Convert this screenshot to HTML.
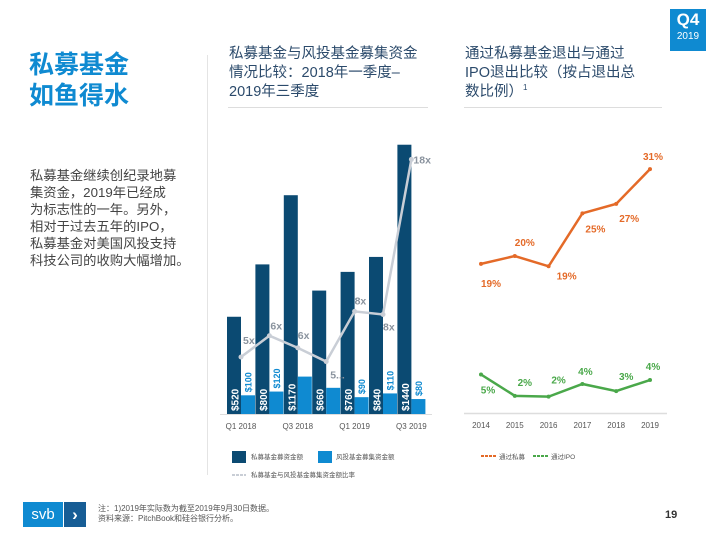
<!DOCTYPE html>
<html><head><meta charset="utf-8"><style>
body{margin:0;width:714px;height:540px;background:#fff;position:relative;overflow:hidden;font-family:"Liberation Sans","Noto Sans CJK SC",sans-serif;}
.a{position:absolute;}
</style></head><body>
<div class="a" style="left:670px;top:9px;width:36px;height:42px;background:#0f8ad1;color:#fff;text-align:center;">
<div style="font-size:17px;font-weight:bold;line-height:22px;">Q4</div><div style="font-size:10px;line-height:12px;">2019</div></div>
<div class="a" style="left:29px;top:50px;font-size:25px;font-weight:bold;color:#0f8ad1;line-height:31px;">私募基金<br>如鱼得水</div>
<div class="a" style="left:207px;top:55px;width:1px;height:420px;background:#e4e4e4;"></div>
<div class="a" style="left:30px;top:167px;font-size:13.3px;color:#444;line-height:17px;">私募基金继续创纪录地募<br>集资金，2019年已经成<br>为标志性的一年。另外，<br>相对于过去五年的IPO，<br>私募基金对美国风投支持<br>科技公司的收购大幅增加。</div>
<div class="a" style="left:229px;top:45px;font-size:14.5px;color:#2b4a6b;line-height:19px;">私募基金与风投基金募集资金<br>情况比较：2018年一季度–<br>2019年三季度</div>
<div class="a" style="left:465px;top:45px;font-size:14.5px;color:#2b4a6b;line-height:19px;">通过私募基金退出与通过<br>IPO退出比较（按占退出总<br>数比例）<span style="font-size:8px;position:relative;top:-6px;">1</span></div>
<div class="a" style="left:228px;top:107px;width:200px;height:1px;background:#ddd"></div>
<div class="a" style="left:464px;top:107px;width:198px;height:1px;background:#ddd"></div>
<svg class="a" style="left:0;top:0" width="714" height="540" id="c"></svg>
<div class="a" style="left:23px;top:502px;width:40px;height:25px;background:#0f8ad1;color:#fff;font-size:15px;text-align:center;line-height:25px;">svb</div>
<div class="a" style="left:64px;top:502px;width:22px;height:25px;background:#175d95;color:#fff;font-size:17px;text-align:center;line-height:25px;font-weight:bold;">›</div>
<div class="a" style="left:98px;top:504px;font-size:8px;color:#555;line-height:10px;">注：1)2019年实际数为截至2019年9月30日数据。<br>资料来源：PitchBook和硅谷银行分析。</div>
<div class="a" style="left:665px;top:509px;font-size:11px;font-weight:bold;color:#333;">19</div>
<script>
const quarters=["Q1 2018","Q2 2018","Q3 2018","Q4 2018","Q1 2019","Q2 2019","Q3 2019"];
const peValues=[520,800,1170,660,760,840,1440];
const vcValues=[100,120,200,140,90,110,80];
const vcLabels=["$100","$120","","","$90","$110","$80"];
const ratioValues=[5,6.4,5.6,4.7,8,7.8,18];
const ratioLabels=["5x","6x","6x","5...","8x","8x","18x"];
const years=["2014","2015","2016","2017","2018","2019"];
const peExit=[19,20,18.7,25.4,26.6,31];
const ipoExit=[5,2.3,2.2,3.8,2.9,4.3];
const peExitLabels=["19%","20%","19%","25%","27%","31%"];
const ipoExitLabels=["5%","2%","2%","4%","3%","4%"];
const svg=document.getElementById('c');const NS="http://www.w3.org/2000/svg";
function mk(t,a,txt){const e=document.createElementNS(NS,t);for(const k in a)e.setAttribute(k,a[k]);if(txt!==undefined)e.textContent=txt;svg.appendChild(e);return e;}
const bx=i=>227+28.4*i, by=v=>414-v*0.187, ry=v=>357-(v-5)*15.2;
peValues.forEach((v,i)=>{const r=mk('rect',{x:bx(i),y:by(v),width:14,height:414-by(v),fill:'#0b4a72'});

const t=mk('text',{x:0,y:0,transform:`translate(${bx(i)+11.5},411) rotate(-90)`,fill:'#fff','font-size':10,'font-weight':'bold'},'$'+v);
});
vcValues.forEach((v,i)=>{const r=mk('rect',{x:bx(i)+14,y:by(v),width:14,height:414-by(v),fill:'#0f8ad1'});

if(vcLabels[i]){const t=mk('text',{x:0,y:0,transform:`translate(${bx(i)+24.5},${by(v)-3}) rotate(-90)`,fill:'#0f8ad1','font-size':9,'font-weight':'bold'},vcLabels[i]);
}});
const rp=ratioValues.map((v,i)=>[bx(i)+14,ry(v)]);
const rl=mk('polyline',{points:rp.map(p=>p.join(',')).join(' '),fill:'none',stroke:'#c9ced6','stroke-width':2.5});

rp.forEach((p,i)=>{const c=mk('circle',{cx:p[0],cy:p[1],r:2.5,fill:'#c9ced6'});
const dy=[-13,-6,-9,17,-7,16,4][i];const dx=[2,1,0,4,0,0,2][i];
const t=mk('text',{x:p[0]+dx,y:p[1]+dy,fill:'#8a939e','font-size':10.5,'font-weight':'bold'},ratioLabels[i]);});
mk('line',{x1:220,x2:432,y1:414.5,y2:414.5,stroke:'#ddd'});
[0,2,4,6].forEach(i=>{const t=mk('text',{x:bx(i)+14,y:429,'text-anchor':'middle','font-size':8,fill:'#555'},quarters[i]);});
mk('rect',{x:232,y:451,width:14,height:12,fill:'#0b4a72'});mk('text',{x:251,y:459,'font-size':6.5,fill:'#555'},'私募基金募资金额');
mk('rect',{x:318,y:451,width:14,height:12,fill:'#0f8ad1'});mk('text',{x:336,y:459,'font-size':6.5,fill:'#555'},'风投基金募集资金额');
mk('line',{x1:232,x2:246,y1:475,y2:475,stroke:'#c9ced6','stroke-width':2,'stroke-dasharray':'3,1'});mk('text',{x:251,y:477,'font-size':6.5,fill:'#555'},'私募基金与风投基金募集资金额比率');
const yx=i=>481+33.8*i, yy=v=>414-v*7.9;
function line(vals,color,labels,offs,name){const pts=vals.map((v,i)=>[yx(i),yy(v)]);
const l=mk('polyline',{points:pts.map(p=>p.join(',')).join(' '),fill:'none',stroke:color,'stroke-width':2.5});
pts.forEach((p,i)=>{const c=mk('circle',{cx:p[0],cy:p[1],r:2,fill:color});
const t=mk('text',{x:p[0]+offs[i][0],y:p[1]+offs[i][1],'font-size':10,'font-weight':'bold',fill:color,'text-anchor':'middle'},labels[i]);});}
line(peExit,'#e46a28',peExitLabels,[[10,23],[10,-10],[18,13],[13,19],[13,18],[3,-9]],'pe-exit');
line(ipoExit,'#4aa84a',ipoExitLabels,[[7,19],[10,-10],[10,-13],[3,-9],[10,-11],[3,-10]],'ipo-exit');
mk('line',{x1:464,x2:667,y1:413.5,y2:413.5,stroke:'#ddd','stroke-width':1.5});
years.forEach((y,i)=>{const t=mk('text',{x:yx(i),y:428,'text-anchor':'middle','font-size':8,fill:'#555'},y);});
mk('line',{x1:481,x2:497,y1:456,y2:456,stroke:'#e46a28','stroke-width':2,'stroke-dasharray':'3,1'});mk('text',{x:499,y:459,'font-size':6.5,fill:'#555'},'通过私募');
mk('line',{x1:533,x2:549,y1:456,y2:456,stroke:'#4aa84a','stroke-width':2,'stroke-dasharray':'3,1'});mk('text',{x:551,y:459,'font-size':6.5,fill:'#555'},'通过IPO');
</script>
</body></html>
